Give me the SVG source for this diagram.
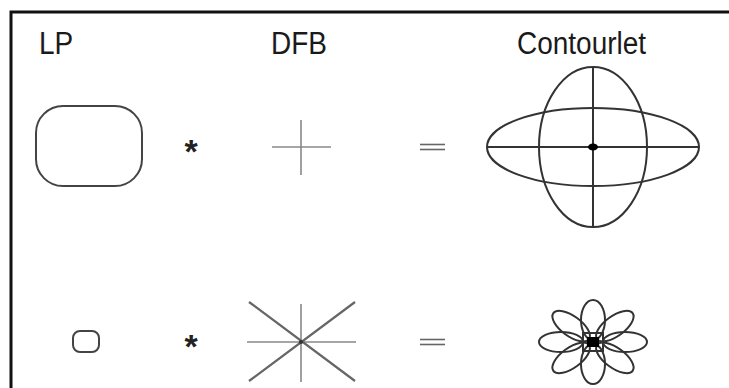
<svg xmlns="http://www.w3.org/2000/svg" width="729" height="388" viewBox="0 0 729 388">
<style>
.lbl{font-family:"Liberation Sans",Arial,sans-serif;font-size:28px;fill:#1a1a1a}
.shape{fill:none;stroke:#444;stroke-width:2}
.dfb{fill:none;stroke:#888;stroke-width:1.6}
.dfb2{fill:none;stroke:#666;stroke-width:2.2}
.op{font-family:"Liberation Sans",Arial,sans-serif;font-weight:bold;fill:#222;text-anchor:middle}
.eq{stroke:#666;stroke-width:1.6}
.ct{fill:none;stroke:#333;stroke-width:2}
</style>
<rect width="729" height="388" fill="#fff"/>
<g id="frame">
<path d="M11 388 V12 H729" fill="none" stroke="#111" stroke-width="3"/>
</g>
<g id="labels">
<text class="lbl" x="39" y="54" transform="translate(0,-5) scale(1,1.1)">LP</text>
<text class="lbl" x="271" y="54" transform="translate(0,-5) scale(1,1.1)">DFB</text>
<text class="lbl" x="517" y="54" transform="translate(0,-5) scale(1,1.1)">Contourlet</text>
</g>
<g id="lp1"><rect class="shape" x="36" y="106" width="106" height="80" rx="27" ry="27"/></g>
<g id="star1"><text class="op" x="191" y="163" font-size="34">*</text></g>
<g id="dfb1">
<line class="dfb" x1="272" y1="147" x2="331" y2="147"/>
<line class="dfb" x1="301" y1="120" x2="301" y2="175"/>
</g>
<g id="eq1">
<line class="eq" x1="420" y1="144.5" x2="445" y2="144.5"/>
<line class="eq" x1="420" y1="149.5" x2="445" y2="149.5"/>
</g>
<g id="contourlet1">
<ellipse class="ct" cx="593" cy="147" rx="106" ry="39"/>
<ellipse class="ct" cx="593" cy="147" rx="54" ry="80"/>
<line class="ct" x1="487" y1="147" x2="699" y2="147" stroke-width="1.6"/>
<line class="ct" x1="593" y1="67" x2="593" y2="227" stroke-width="1.6"/>
<ellipse cx="593" cy="147" rx="5" ry="3.5" fill="#000"/>
</g>
<g id="lp2"><rect class="shape" x="73" y="331" width="26" height="21" rx="7" ry="7"/></g>
<g id="star2"><text class="op" x="191" y="358" font-size="34">*</text></g>
<g id="dfb2">
<line class="dfb" x1="247" y1="342" x2="356" y2="342" stroke="#aaa"/>
<line class="dfb" x1="301" y1="304" x2="301" y2="382" stroke="#aaa"/>
<line class="dfb2" x1="249" y1="302" x2="355" y2="381"/>
<line class="dfb2" x1="249" y1="381" x2="355" y2="302"/>
<circle cx="301" cy="342" r="2" fill="#333"/>
</g>
<g id="eq2">
<line class="eq" x1="420" y1="339.5" x2="445" y2="339.5"/>
<line class="eq" x1="420" y1="344.5" x2="445" y2="344.5"/>
</g>
<g id="contourlet2" transform="translate(593,342)">
<g class="ct" stroke-width="2.4">
<ellipse cx="32" cy="0" rx="22" ry="10"/>
<ellipse cx="-32" cy="0" rx="22" ry="10"/>
<ellipse cx="0" cy="-22" rx="12" ry="20"/>
<ellipse cx="0" cy="22" rx="12" ry="20"/>
<ellipse cx="27" cy="0" rx="22" ry="10" transform="rotate(-36)"/>
<ellipse cx="27" cy="0" rx="22" ry="10" transform="rotate(36)"/>
<ellipse cx="-27" cy="0" rx="22" ry="10" transform="rotate(-36)"/>
<ellipse cx="-27" cy="0" rx="22" ry="10" transform="rotate(36)"/>
<rect x="-10" y="-9" width="20" height="18"/>
</g>
<rect x="-6" y="-5" width="12" height="10" fill="#000"/>
</g>
</svg>
